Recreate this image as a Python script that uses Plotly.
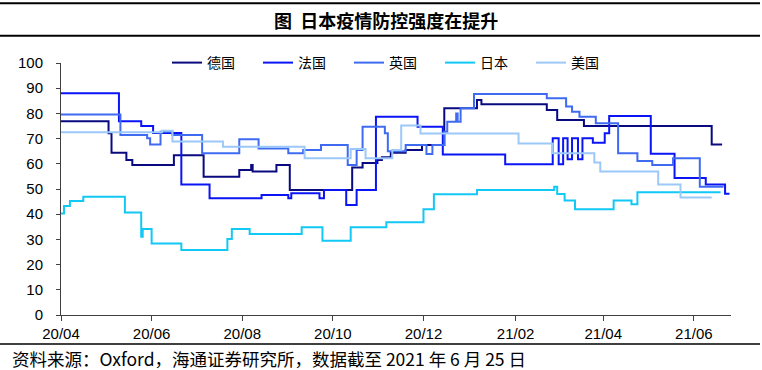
import plotly.graph_objects as go

# ---------------- data (step change points) ----------------
de_dates = ["2020-04-01", "2020-05-03", "2020-05-05", "2020-05-15", "2020-05-19", "2020-06-16",
            "2020-07-06", "2020-07-30", "2020-08-07", "2020-08-08", "2020-08-24", "2020-09-02",
            "2020-10-14", "2020-10-21", "2020-10-31", "2020-11-03", "2020-11-09", "2020-11-19",
            "2020-11-30", "2020-12-15", "2021-01-06", "2021-01-09", "2021-02-22", "2021-03-01",
            "2021-03-19", "2021-06-13", "2021-06-20"]
de_vals = [76.9, 72.1, 64.4, 61.5, 59.5, 63.4, 54.9, 57.5, 59.5, 56.9, 59.5, 49.6,
           58.5, 60.3, 61.5, 62.6, 64.4, 65.5, 67.5, 82.0, 85.3, 83.6, 81.3, 77.4,
           75.0, 67.7, 67.7]

fr_dates = ["2020-04-01", "2020-05-10", "2020-05-25", "2020-06-02", "2020-06-21", "2020-07-10",
            "2020-08-14", "2020-09-01", "2020-09-03", "2020-09-22", "2020-09-25", "2020-10-10",
            "2020-10-17", "2020-10-30", "2020-11-27", "2020-12-14", "2021-01-25", "2021-02-26",
            "2021-03-02", "2021-03-05", "2021-03-08", "2021-03-11", "2021-03-15", "2021-03-18",
            "2021-03-25", "2021-04-02", "2021-04-05", "2021-05-03", "2021-05-19", "2021-06-09",
            "2021-06-22", "2021-06-25"]
fr_vals = [88.0, 76.9, 75.0, 72.2, 51.8, 46.3, 47.6, 46.3, 48.3, 46.3, 49.6, 43.7,
           49.6, 78.7, 74.7, 63.7, 59.8, 70.1, 59.8, 70.1, 61.8, 70.1, 61.8, 70.1,
           68.4, 72.1, 79.0, 64.0, 54.4, 51.8, 48.1, 48.1]

uk_dates = ["2020-04-01", "2020-05-11", "2020-05-29", "2020-05-31", "2020-06-07", "2020-06-15",
            "2020-07-05", "2020-07-30", "2020-08-12", "2020-09-01", "2020-09-11", "2020-09-23",
            "2020-10-11", "2020-10-17", "2020-10-21", "2020-11-05", "2020-11-07", "2020-11-19",
            "2020-12-03", "2020-12-07", "2020-12-15", "2020-12-17", "2020-12-23", "2020-12-24",
            "2020-12-26", "2021-01-04", "2021-02-22", "2021-03-07", "2021-03-11", "2021-03-16",
            "2021-03-27", "2021-04-11", "2021-04-24", "2021-05-04", "2021-05-18", "2021-06-05",
            "2021-06-21"]
uk_vals = [79.6, 71.4, 70.1, 67.7, 72.7, 71.4, 64.2, 69.7, 66.1, 64.2, 65.5, 67.5,
           59.5, 65.5, 74.7, 72.1, 65.0, 67.5, 63.9, 67.5, 72.7, 76.7, 80.0, 76.7,
           82.0, 87.7, 86.0, 82.7, 80.7, 78.7, 76.1, 64.2, 61.1, 59.5, 62.2, 50.9,
           50.9]

jp_dates = ["2020-04-01", "2020-04-03", "2020-04-07", "2020-04-16", "2020-05-14", "2020-05-25",
            "2020-05-26", "2020-06-01", "2020-06-21", "2020-07-22", "2020-07-25", "2020-08-06",
            "2020-09-10", "2020-09-24", "2020-10-13", "2020-11-06", "2020-12-01", "2020-12-08",
            "2021-01-06", "2021-02-27", "2021-03-01", "2021-03-06", "2021-03-13", "2021-04-08",
            "2021-04-20", "2021-04-24", "2021-06-19"]
jp_vals = [40.3, 43.3, 45.2, 46.9, 40.7, 31.1, 34.1, 28.4, 25.8, 30.2, 34.1, 32.1,
           34.8, 29.5, 34.8, 36.8, 42.0, 47.9, 49.6, 50.9, 48.0, 45.4, 42.0, 45.4,
           43.9, 48.7, 48.7]

us_dates = ["2020-04-01", "2020-06-08", "2020-06-15", "2020-07-19", "2020-09-12", "2020-10-13",
            "2020-10-23", "2020-11-10", "2020-11-16", "2020-11-29", "2021-02-03", "2021-02-26",
            "2021-03-26", "2021-03-30", "2021-05-08", "2021-05-23", "2021-06-13"]
us_vals = [72.5, 73.1, 68.8, 66.8, 62.2, 65.9, 62.2, 65.5, 75.2, 72.0, 68.1, 64.2,
           60.5, 56.9, 51.8, 46.6, 46.6]

series = [
    ("德国", de_dates, de_vals, "#0A0A80"),
    ("法国", fr_dates, fr_vals, "#0A14F5"),
    ("英国", uk_dates, uk_vals, "#3F6BF2"),
    ("日本", jp_dates, jp_vals, "#12C8F5"),
    ("美国", us_dates, us_vals, "#9CC8FA"),
]

title_text = "图  日本疫情防控强度在提升"
source_text = "资料来源：Oxford，海通证券研究所，数据截至 2021 年 6 月 25 日"

# ---------------- figure ----------------
fig = go.Figure()
for name, d, v, c in series:
    fig.add_trace(go.Scatter(x=d, y=v, name=name, mode="lines",
                             line=dict(color=c, width=2, shape="hv")))

L, R, T, B = 61, 31, 63, 55
W, H = 762, 370
pw, ph = W - L - R, H - T - B

def px_x(p):
    return (p - L) / pw

def px_y(p):
    return (H - B - p) / ph

axis_color = "#404040"
tick_font = dict(family="Liberation Sans, Arial, sans-serif", size=15, color="#000000")

fig.update_layout(
    width=W, height=H, autosize=False,
    margin=dict(l=L, r=R, t=T, b=B, pad=0),
    paper_bgcolor="white", plot_bgcolor="white",
    showlegend=True,
    legend=dict(orientation="h", x=px_x(167), xanchor="left", y=px_y(63), yanchor="middle",
                font=dict(family="Noto Sans CJK SC", size=14, color="#000000"),
                bgcolor="rgba(0,0,0,0)", entrywidth=46, entrywidthmode="pixels",
                itemwidth=30, tracegroupgap=0),
    xaxis=dict(type="date", range=["2020-04-01", "2021-06-26"],
               tick0="2020-04-01", dtick="M2", tickformat="%y/%m",
               showgrid=False, zeroline=False, showline=True, linecolor=axis_color, linewidth=1,
               ticks="outside", ticklen=5, tickcolor=axis_color, tickfont=tick_font),
    yaxis=dict(range=[0, 100], dtick=10, showgrid=False, zeroline=False,
               showline=True, linecolor=axis_color, linewidth=1,
               ticks="outside", ticklen=4, tickcolor=axis_color, tickfont=tick_font,
               ticklabelstandoff=10),
)

# horizontal rules around title and above the source
for yy, wd in [(3.3, 2), (35.7, 2), (344, 1.5)]:
    fig.add_shape(type="line", xref="paper", yref="paper",
                  x0=px_x(0), x1=px_x(760), y0=px_y(yy), y1=px_y(yy),
                  line=dict(color="#000000", width=wd))

fig.add_annotation(text="<b>" + title_text + "</b>", xref="paper", yref="paper",
                   x=px_x(272), y=px_y(20), xanchor="left", yanchor="middle",
                   showarrow=False,
                   font=dict(family="Noto Sans CJK SC", size=18, color="#000000"))

fig.add_annotation(text=source_text, xref="paper", yref="paper",
                   x=px_x(10), y=px_y(358), xanchor="left", yanchor="middle",
                   showarrow=False,
                   font=dict(family="Noto Sans CJK SC", size=17.5, color="#000000"))

fig.write_html("out.html", config={"displayModeBar": False},
               post_script="document.body.style.margin='0';document.body.style.overflow='hidden';")
